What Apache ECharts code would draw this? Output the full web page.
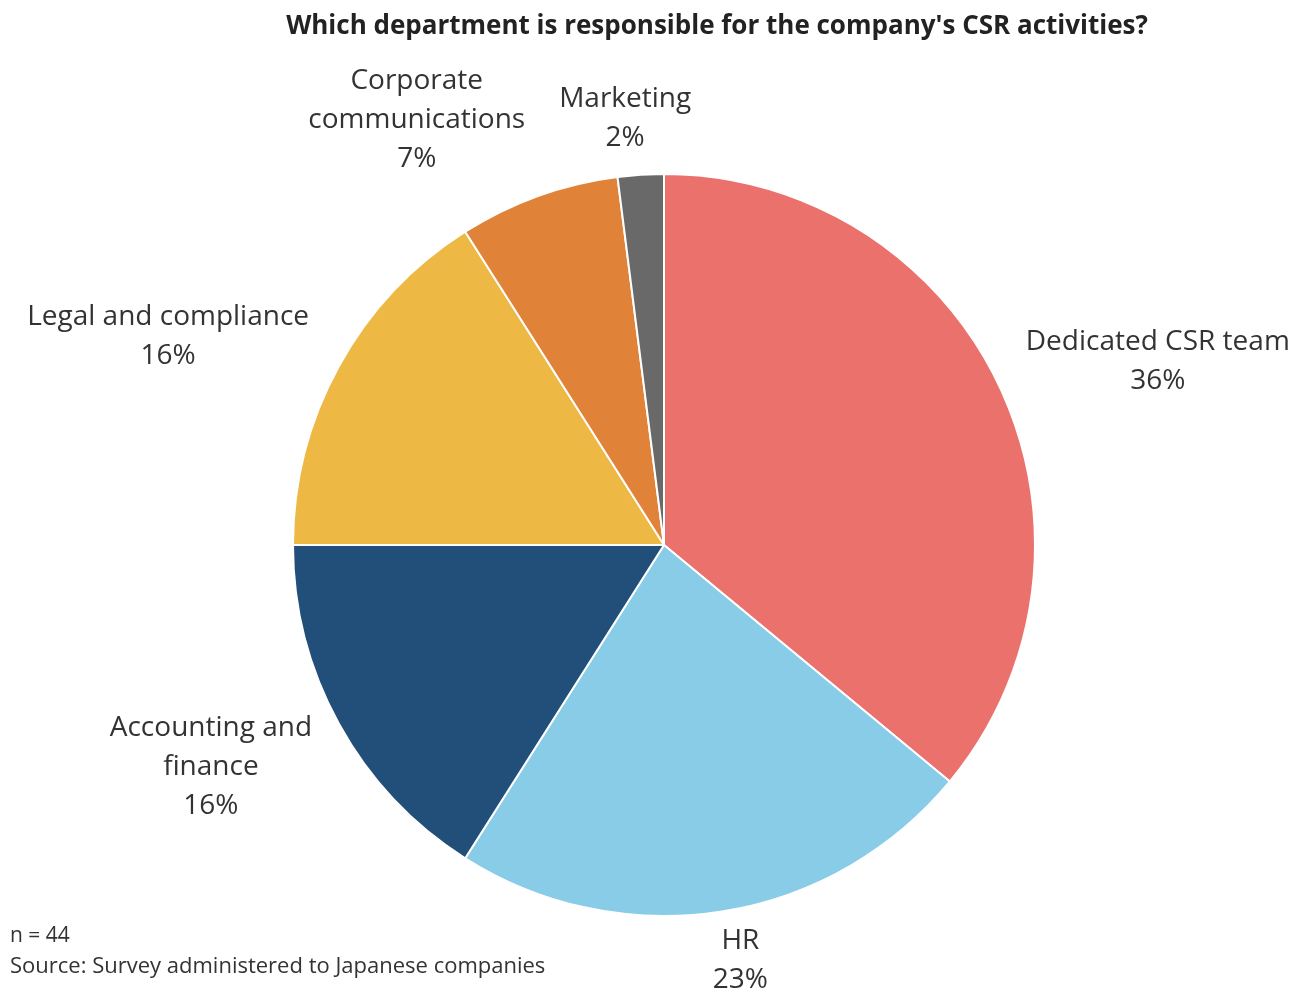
<!DOCTYPE html>
<html>
<head>
<meta charset="utf-8">
<script src="https://cdn.jsdelivr.net/npm/echarts@6/dist/echarts.min.js"></script>
<style>
  html, body { margin: 0; padding: 0; background: #ffffff; }
  #chart { width: 1296px; height: 994px; }
</style>
</head>
<body>
<div id="chart"></div>
<script>
// Survey answers (share of respondents, %)
const categories = [
  'Dedicated CSR team',
  'HR',
  'Accounting and\nfinance',
  'Legal and compliance',
  'Corporate\ncommunications',
  'Marketing'
];
const shares = [36, 23, 16, 16, 7, 2];
const sliceColors = ['#EB716C', '#88CCE8', '#224F79', '#EEB845', '#E08338', '#696969'];

// Label placement: distance from the pie centre (in radii) and angular nudge (deg)
const labelDistance = [1.42, 1.14, 1.36, 1.45, 1.325, 1.155];
const labelAngleShift = [4.8, -1.4, 2.7, -6.0, -10.4, -1.6];

const CX = 664, CY = 545, R = 371;
const FONT = '"Open Sans", "Noto Sans", sans-serif';

const total = shares.reduce((a, b) => a + b, 0);
const midAngles = [];
let acc = 0;
shares.forEach(v => {
  midAngles.push((acc + v / 2) / total * 360);
  acc += v;
});

const chart = echarts.init(document.getElementById('chart'));
chart.setOption({
  backgroundColor: '#ffffff',
  animation: false,
  title: [{
    text: "Which department is responsible for the company's CSR activities?",
    left: 712, top: 9, textAlign: 'center',
    textStyle: { fontFamily: FONT, fontSize: 26, fontWeight: 'bold', color: '#222222' }
  }],
  graphic: [
    { type: 'text', left: 10, top: 926,
      style: { text: 'n = 44', font: '21px ' + FONT, fill: '#333333' } },
    { type: 'text', left: 10, top: 956,
      style: { text: 'Source: Survey administered to Japanese companies', font: '22px ' + FONT, fill: '#333333' } }
  ],
  series: [{
    type: 'pie',
    center: [CX, CY],
    radius: [0, R],
    startAngle: 90,
    clockwise: true,
    avoidLabelOverlap: false,
    itemStyle: { borderColor: '#ffffff', borderWidth: 2 },
    label: {
      show: true,
      position: 'outside',
      formatter: p => p.name + '\n' + p.value + '%',
      fontFamily: FONT,
      fontSize: 28,
      lineHeight: 39,
      color: '#333333',
      align: 'center'
    },
    labelLine: { show: false },
    labelLayout: function (params) {
      const i = params.dataIndex;
      const a = (midAngles[i] + labelAngleShift[i]) * Math.PI / 180;
      const d = R * labelDistance[i];
      return {
        x: CX + d * Math.sin(a),
        y: CY - d * Math.cos(a),
        align: 'center',
        verticalAlign: 'middle'
      };
    },
    data: categories.map((name, i) => ({
      name: name,
      value: shares[i],
      itemStyle: { color: sliceColors[i] }
    }))
  }]
});
</script>
</body>
</html>
